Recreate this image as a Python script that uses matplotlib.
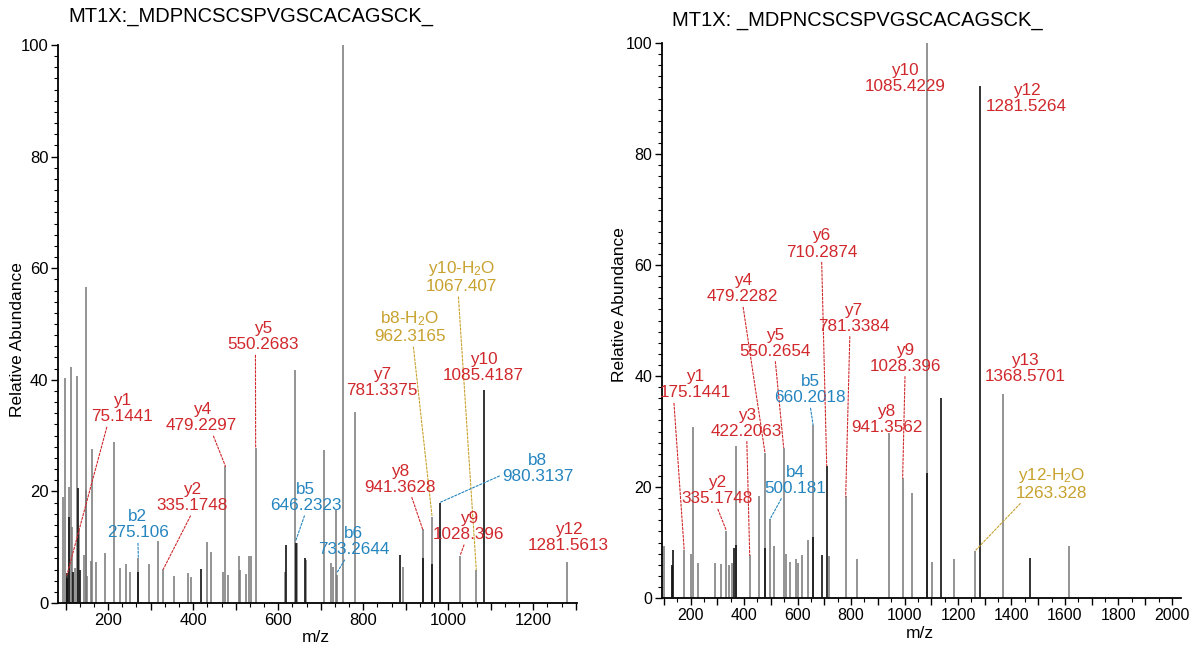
import matplotlib
matplotlib.use('Agg')
import matplotlib.pyplot as plt
from matplotlib.ticker import MultipleLocator, AutoMinorLocator, FuncFormatter

plt.rcParams['font.family'] = ['Liberation Sans', 'DejaVu Sans']
plt.rcParams['mathtext.fontset'] = 'custom'
plt.rcParams['mathtext.rm'] = 'Liberation Sans'
plt.rcParams['mathtext.default'] = 'regular'

# ---------------- data: left spectrum ----------------
left_title = "MT1X:_MDPNCSCSPVGSCACAGSCK_"
left_gray_mz = [94, 99, 107, 112, 114.5, 121, 127, 132, 143, 147, 148, 151, 160, 162, 171,
                193, 213, 227, 242, 252, 270, 297, 317, 330, 356, 389, 394, 433, 441, 470,
                476, 483, 507, 510, 524, 532, 536, 547, 617, 639, 644, 665, 708, 724, 729,
                735, 738, 752, 780, 893, 940, 962, 1028, 1066, 1279]
left_gray_int = [19.0, 40.3, 20.8, 42.3, 13.7, 6.3, 40.7, 13.1, 8.6, 56.7, 20.3, 4.8, 7.6, 27.6, 7.4,
                 9.0, 28.9, 6.3, 7.0, 5.6, 8.0, 6.9, 11.2, 6.1, 4.8, 5.3, 4.7, 11.0, 9.1, 5.6,
                 24.5, 5.0, 8.4, 6.0, 5.2, 8.4, 8.4, 27.7, 5.6, 41.8, 10.8, 7.7, 27.4, 7.1, 6.5,
                 16.7, 5.0, 100, 34.2, 6.5, 13.2, 15.5, 8.5, 6.0, 7.3]
left_black_mz = [102, 104, 108, 117, 129, 133, 271, 418, 619, 641, 662, 887, 941, 963, 980, 1085]
left_black_int = [5.4, 4.5, 15.5, 5.5, 20.6, 6.0, 5.5, 6.1, 10.4, 10.8, 8.1, 8.6, 8.1, 7.0, 18.0, 38.2]

left_ion = ['y1', 'b2', 'y2', 'y4', 'y5', 'b5', 'b6', 'y7', 'b8-H$_2$O', 'y8',
            'y10-H$_2$O', 'y10', 'b8', 'y9', 'y12']
left_ion_mass = ['75.1441', '275.106', '335.1748', '479.2297', '550.2683', '646.2323',
                 '733.2644', '781.3375', '962.3165', '941.3628', '1067.407', '1085.4187',
                 '980.3137', '1028.396', '1281.5613']
left_ion_peak = [(103, 5.0), (271, 8.0), (330, 6.1), (476, 24.5), (547, 27.7), (642, 11.3),
                 (738, 5.4), None, (962, 15.5), (940, 13.2), (1066, 6.0), None,
                 (980, 18.0), (1028, 8.5), None]
# layout of label blocks (data coords) and where the leader leaves the block
left_label_pos = [(232, 34.8), (270, 14.0), (397, 18.9), (420, 33.2), (565, 47.7), (664, 18.9),
                  (777, 11.0), (844, 39.5), (909, 49.5), (887, 22.2), (1032, 58.5), (1083, 42.2),
                  (1211, 24.1), (1048, 13.7), (1283, 11.7)]
left_relpos = [(0.27, 0), (0.5, 0), (0.5, 0), (0.65, 0), (0.39, 0), (0.5, 0), (0.4, 0), None,
               (0.55, 0), (0.65, 0), (0.45, 0), None, (0.0, 0.3), (0.45, 0), None]

# ---------------- data: right spectrum ----------------
right_title = "MT1X: _MDPNCSCSPVGSCACAGSCK_"
right_gray_mz = [102, 130, 176, 202, 210, 227, 292, 313, 334, 344, 356, 371, 421, 456, 478,
                 497, 513, 548, 558, 572, 594, 603, 617, 638, 658, 717, 780, 821, 942, 993,
                 1028, 1085, 1103, 1185, 1264, 1368, 1615]
right_gray_int = [9.4, 5.5, 8.6, 7.9, 30.9, 6.3, 6.3, 6.2, 12.1, 5.9, 6.3, 27.3, 7.7, 18.3, 26.2,
                  14.2, 9.3, 27.1, 7.9, 6.4, 7.0, 6.3, 7.7, 10.5, 31.2, 7.5, 18.3, 7.0, 29.7, 21.6,
                  19.0, 100, 6.4, 7.0, 8.5, 36.8, 9.4]
right_black_mz = [132, 136, 364, 369, 478, 659, 690, 709, 1085, 1136, 1281, 1470]
right_black_int = [6.0, 8.6, 9.0, 9.5, 9.0, 11.0, 7.7, 23.8, 22.6, 36.0, 92.3, 7.2]

right_ion = ['y1', 'y2', 'y3', 'y4', 'y5', 'b4', 'b5', 'y6', 'y7', 'y8', 'y9', 'y10',
             'y12', 'y13', 'y12-H$_2$O']
right_ion_mass = ['175.1441', '335.1748', '422.2063', '479.2282', '550.2654', '500.181',
                  '660.2018', '710.2874', '781.3384', '941.3562', '1028.396', '1085.4229',
                  '1281.5264', '1368.5701', '1263.328']
right_ion_peak = [(176, 8.6), (334, 12.1), (421, 7.7), (478, 26.2), (548, 27.1), (497, 14.2),
                  (658, 31.2), (709, 23.8), (780, 18.3), None, (993, 21.6), None,
                  None, None, (1264, 8.5)]
right_label_pos = [(217, 38.4), (298, 19.3), (410, 31.5), (395, 55.7), (516, 45.9), (591, 21.2),
                   (647, 37.5), (690, 63.8), (809, 50.4), (933, 32.1), (1002, 43.2), (1002, 93.6),
                   (1457, 90.0), (1450, 41.4), (1550, 20.7)]
right_relpos = [(0.2, 0), (0.5, 0), (0.5, 0), (0.5, 0), (0.5, 0), (0.3, 0), (0.5, 0), (0.5, 0),
                (0.45, 0), None, (0.5, 0), None, None, None, (0.1, 0)]

RED = '#d0282c'
BLUE = '#2585bf'
GOLD = '#c8a22e'
GRAY = '#777777'
BLACK = '#111111'


def ion_color(name):
    if 'H$_2$O' in name:
        return GOLD
    if name.startswith('b'):
        return BLUE
    return RED


def draw_panel(ax, gmz, gint, bmz, bint, ions, masses, peaks, lpos, rel, xlim,
               minor_per, tick_fs):
    ax.vlines(gmz, 0, gint, colors=GRAY, linewidth=1.1, zorder=2)
    ax.vlines(bmz, 0, bint, colors=BLACK, linewidth=1.2, zorder=3)
    ax.set_xlim(*xlim)
    ax.set_ylim(0, 100)
    for s in ['top', 'right']:
        ax.spines[s].set_visible(False)
    for s in ['left', 'bottom']:
        ax.spines[s].set_linewidth(1.3)
    ax.yaxis.set_major_locator(MultipleLocator(20))
    ax.yaxis.set_minor_locator(MultipleLocator(2))
    ax.xaxis.set_major_locator(MultipleLocator(100))
    ax.xaxis.set_major_formatter(FuncFormatter(
        lambda v, p: '%d' % v if int(round(v)) % 200 == 0 else ''))
    ax.xaxis.set_minor_locator(AutoMinorLocator(minor_per))
    ax.tick_params(axis='both', which='major', length=5, width=1.0, labelsize=tick_fs, pad=2)
    ax.tick_params(axis='both', which='minor', length=3, width=0.8)
    for name, mass, pk, pos, rp in zip(ions, masses, peaks, lpos, rel):
        c = ion_color(name)
        txt = name + '\n' + mass
        if pk is None:
            ax.text(pos[0], pos[1], txt, color=c, fontsize=12.3, ha='center', va='center',
                    linespacing=1.1, zorder=5)
        else:
            ax.annotate(txt, xy=pk, xytext=pos, textcoords='data', color=c, fontsize=12.3,
                        ha='center', va='center', linespacing=1.1, zorder=5,
                        annotation_clip=False,
                        arrowprops=dict(arrowstyle='-', color=c, lw=0.8,
                                        linestyle=(0, (2, 1.5)), shrinkA=0, shrinkB=0,
                                        relpos=rp))


fig = plt.figure(figsize=(12.02, 6.49), dpi=100)
W, H = 1202.0, 649.0
axL = fig.add_axes([58 / W, 1 - 603 / H, (577 - 58) / W, (603 - 45) / H])
axR = fig.add_axes([662 / W, 1 - 598 / H, (1181 - 662) / W, (598 - 43) / H])

draw_panel(axL, left_gray_mz, left_gray_int, left_black_mz, left_black_int,
           left_ion, left_ion_mass, left_ion_peak, left_label_pos, left_relpos,
           (82, 1303), 3, 12)
draw_panel(axR, right_gray_mz, right_gray_int, right_black_mz, right_black_int,
           right_ion, right_ion_mass, right_ion_peak, right_label_pos, right_relpos,
           (93, 2034), 2, 11.5)

fig.text(68 / W, 1 - 17 / H, left_title, fontsize=14.5, ha='left', va='center')
fig.text(672 / W, 1 - 20 / H, right_title, fontsize=14.5, ha='left', va='center')
fig.text(18 / W, 1 - 340 / H, 'Relative Abundance', rotation=90, fontsize=12.5,
         ha='center', va='center')
fig.text(620 / W, 1 - 305 / H, 'Relative Abundance', rotation=90, fontsize=12.5,
         ha='center', va='center')
fig.text(316 / W, 1 - 637 / H, 'm/z', fontsize=12.5, ha='center', va='center')
fig.text(920 / W, 1 - 633 / H, 'm/z', fontsize=12.5, ha='center', va='center')

fig.savefig('out.png', dpi=100)
